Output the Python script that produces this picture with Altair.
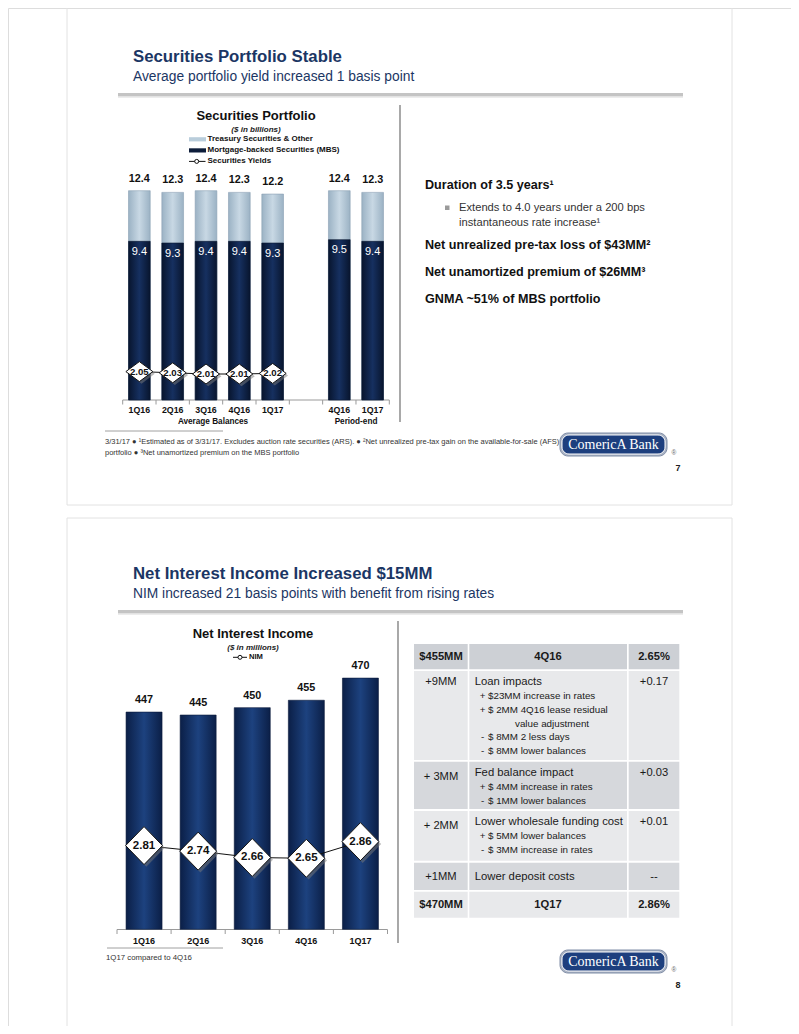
import altair as alt
import pandas as pd

# ---------------- chart data ----------------
sec_quarters = ["1Q16", "2Q16", "3Q16", "4Q16", "1Q17", "4Q16", "1Q17"]
sec_groups = ["Average Balances"] * 5 + ["Period-end"] * 2
sec_totals = [12.4, 12.3, 12.4, 12.3, 12.2, 12.4, 12.3]
sec_mbs = [9.4, 9.3, 9.4, 9.4, 9.3, 9.5, 9.4]
sec_yields = [2.05, 2.03, 2.01, 2.01, 2.02]

nii_quarters = ["1Q16", "2Q16", "3Q16", "4Q16", "1Q17"]
nii_values = [447, 445, 450, 455, 470]
nim_values = [2.81, 2.74, 2.66, 2.65, 2.86]

table_change = ["$455MM", "+9MM", "+ 3MM", "+ 2MM", "+1MM", "$470MM"]
table_item = ["4Q16", "Loan impacts", "Fed balance impact", "Lower wholesale funding cost",
              "Lower deposit costs", "1Q17"]
table_nim = ["2.65%", "+0.17", "+0.03", "+0.01", "--", "2.86%"]
table_details = [
    [],
    [("+", "$23MM increase in rates"), ("+", "$ 2MM 4Q16 lease residual"), ("", "value adjustment"),
     ("-", "$ 8MM 2 less days"), ("-", "$ 8MM lower balances")],
    [("+", "$ 4MM increase in rates"), ("-", "$ 1MM lower balances")],
    [("+", "$ 5MM lower balances"), ("-", "$ 3MM increase in rates")],
    [],
    [],
]

# ---------------- style / layout ----------------
NARROW = "Liberation Sans Narrow, Arial Narrow, Liberation Sans, Arial, sans-serif"
SERIF = "Liberation Serif, DejaVu Serif, serif"
NAVY = "#1b3664"
OX, OY = 8, 8
W, H = 783, 1018

texts, rules, rects, logo_rects, dots = [], [], [], [], []


def T(x, y, s, size, weight="normal", color="#111111", align="left", style="normal", font=NARROW):
    texts.append(dict(x=x - OX, y=y - OY, t=s, size=size, weight=weight, color=color,
                      align=align, style=style, font=font))


def R(x, y, x2, y2, color="#888888", w=1.0):
    rules.append(dict(x=x - OX, y=y - OY, x2=x2 - OX, y2=y2 - OY, color=color, w=w))


def B(x, y, x2, y2, fill, stroke="transparent", sw=0.0, target=None, radius=0):
    (rects if target is None else target).append(
        dict(x=x - OX, y=y - OY, x2=x2 - OX, y2=y2 - OY, fill=fill, stroke=stroke, sw=sw, radius=radius))


def header(dy, title, subtitle):
    T(133, 57 + dy, title, 16.8, "bold", NAVY)
    T(133, 77 + dy, subtitle, 13.8, "normal", NAVY)
    R(118, 94 + dy, 683, 94 + dy, "#8a8a8a", 1.2)
    R(118, 95.6 + dy, 683, 95.6 + dy, "#c4c4c4", 2)
    R(118, 97.2 + dy, 683, 97.2 + dy, "#e4e4e4", 1)


def logo(dy, page):
    B(560, 433 + dy, 667, 456 + dy, "#aab3c4", "#7f8da6", 1, logo_rects, 8)
    B(562, 435 + dy, 665, 454 + dy, "#1d3f7e", "#ffffff", 1, logo_rects, 7)
    T(613.5, 445 + dy, "ComericA Bank", 14, "normal", "#ffffff", "center", font=SERIF)
    T(674, 453 + dy, "\u00ae", 6.5, "normal", "#666666", "center")
    T(678, 468 + dy, page, 9, "bold", "#222222", "center")


# slide frames
B(67, 3, 732, 505, "transparent", "#e2e2e2", 1)
B(67, 518, 732, 1040, "transparent", "#e2e2e2", 1)

# ---- slide 1 ----
header(0, "Securities Portfolio Stable", "Average portfolio yield increased 1 basis point")
R(400, 105, 400, 422, "#7a7a7a", 1.3)
T(256, 116, "Securities Portfolio", 13, "bold", "#111111", "center")
T(256, 129.5, "($ in billions)", 8, "bold", "#222222", "center", "italic")
B(189, 137.2, 206, 141.4, "#b9cddb")
T(207.5, 139.3, "Treasury Securities & Other", 8, "bold")
B(189, 148.3, 206, 152.5, "#0d1d3a")
T(207.5, 150.4, "Mortgage-backed Securities (MBS)", 8, "bold")
R(189, 161.4, 205.5, 161.4, "#111111", 1)
dots.append(dict(x=196.7 - OX, y=161.4 - OY))
T(207.5, 161.4, "Securities Yields", 8, "bold")
T(213, 421.7, "Average Balances", 8.2, "bold", "#111111", "center")
T(356, 421.7, "Period-end", 8.2, "bold", "#111111", "center")
R(122.7, 400, 389.3, 400, "#9a9a9a", 1)

T(425, 185, "Duration of 3.5 years\u00b9", 12.6, "bold")
B(445, 205.5, 449.5, 210, "#9a9a9a")
T(459, 208, "Extends to 4.0 years under a 200 bps", 11.2, "normal", "#333333")
T(459, 222.7, "instantaneous rate increase\u00b9", 11.2, "normal", "#333333")
T(425, 244.5, "Net unrealized pre-tax loss of $43MM\u00b2", 12.6, "bold")
T(425, 272, "Net unamortized premium of $26MM\u00b3", 12.6, "bold")
T(425, 298.5, "GNMA ~51% of MBS portfolio", 12.6, "bold")

R(105, 431, 223, 431, "#888888", 0.8)
T(105, 441.5, "3/31/17 \u25cf \u00b9Estimated as of 3/31/17. Excludes auction rate securities (ARS). \u25cf "
              "\u00b2Net unrealized pre-tax gain on the available-for-sale (AFS)", 7.5, "normal", "#333333")
T(105, 452.5, "portfolio \u25cf \u00b3Net unamortized premium on the MBS portfolio", 7.5, "normal", "#333333")
logo(0, "7")

# ---- slide 2 ----
D2 = 517
header(D2, "Net Interest Income Increased $15MM",
       "NIM increased 21 basis points with benefit from rising rates")
R(398, 621, 398, 943, "#7a7a7a", 1.3)
T(253, 634, "Net Interest Income", 13, "bold", "#111111", "center")
T(253, 647.5, "($ in millions)", 8, "bold", "#222222", "center", "italic")
R(233, 657.3, 247, 657.3, "#111111", 1)
dots.append(dict(x=240 - OX, y=657.3 - OY))
T(249, 657.3, "NIM", 7.6, "bold")
R(117, 929.5, 387.5, 929.5, "#9a9a9a", 1)
R(107, 948, 223, 948, "#888888", 0.8)
T(106, 958, "1Q17 compared to 4Q16", 7.8, "normal", "#333333")
logo(D2, "8")

# table
col_x = [(414, 467.7), (469.3, 627), (628.7, 679.3)]
row_y = [(644, 669.3), (671, 760), (761.7, 809), (811, 860.7), (862.7, 890), (891.7, 917.7)]
row_fill = ["#cdd0d5", "#e8e9eb", "#d6d8dc", "#e8e9eb", "#d6d8dc", "#e8e9eb"]
first_line = [656.7, 681.7, 772.7, 821.7, 877.3, 905]
change_y = [656.7, 681.7, 776.7, 826, 877.3, 905]
for i in range(6):
    for (cx0, cx1) in col_x:
        B(cx0, row_y[i][0], cx1, row_y[i][1], row_fill[i])
    bold = i in (0, 5)
    wt = "bold" if bold else "normal"
    T(441, change_y[i], table_change[i], 11.2, wt, "#1a1a1a", "center")
    T(654, first_line[i], table_nim[i], 11.2, wt, "#1a1a1a", "center")
    if bold:
        T(548, first_line[i], table_item[i], 11.2, "bold", "#1a1a1a", "center")
    else:
        T(474.7, first_line[i], table_item[i], 11.3, "normal", "#1a1a1a")
    for j, (sign, line) in enumerate(table_details[i]):
        yy = first_line[i] + 14 + j * 13.9
        if sign:
            T(482.5, yy, sign, 9.8, "normal", "#1a1a1a", "center")
            T(488, yy, line, 9.8, "normal", "#1a1a1a")
        else:
            T(515, yy, line, 9.8, "normal", "#1a1a1a")

# ---------------- layout layers ----------------
layers = []


def rect_layer(rows, radius):
    return alt.Chart(pd.DataFrame(rows)).mark_rect(cornerRadius=radius).encode(
        x=alt.X("x:Q", scale=None, axis=None), x2="x2:Q",
        y=alt.Y("y:Q", scale=None, axis=None), y2="y2:Q",
        color=alt.Color("fill:N", scale=None, legend=None),
        stroke=alt.Stroke("stroke:N", scale=None, legend=None),
        strokeWidth=alt.StrokeWidth("sw:Q", scale=None, legend=None))


layers.append(rect_layer(rects, 0))

layers.append(alt.Chart(pd.DataFrame(rules)).mark_rule().encode(
    x=alt.X("x:Q", scale=None, axis=None), x2="x2:Q",
    y=alt.Y("y:Q", scale=None, axis=None), y2="y2:Q",
    color=alt.Color("color:N", scale=None, legend=None),
    strokeWidth=alt.StrokeWidth("w:Q", scale=None, legend=None)))

layers.append(alt.Chart(pd.DataFrame(dots)).mark_point(
    shape="circle", filled=True, fill="white", stroke="#111111", strokeWidth=1, size=16, opacity=1).encode(
    x=alt.X("x:Q", scale=None, axis=None), y=alt.Y("y:Q", scale=None, axis=None)))


def lin_grad(edge, mid):
    return alt.LinearGradient(gradient="linear", x1=0, x2=1, y1=0, y2=0, stops=[
        alt.GradientStop(color=edge, offset=0), alt.GradientStop(color=mid, offset=0.5),
        alt.GradientStop(color=edge, offset=1)])


# ---------------- slide 1 chart ----------------
sec_keys = [f"{g}|{q}" for g, q in zip(sec_groups, sec_quarters)]
dom1 = sec_keys[:5] + ["gap"] + sec_keys[5:]
xs1 = alt.Scale(type="band", domain=dom1, range=[122.7 - OX, 389.3 - OX], paddingInner=0, paddingOuter=0)
ys1 = alt.Scale(domain=[0, 12.4], range=[400 - OY, 190.7 - OY], nice=False, zero=False)
yy1 = alt.Scale(domain=[2.0, 2.1], range=[374.6 - OY, 368.6 - OY], nice=False, zero=False)
df1 = pd.DataFrame({"key": sec_keys, "quarter": sec_quarters, "total": sec_totals, "mbs": sec_mbs})
dfy1 = pd.DataFrame({"key": sec_keys[:5], "yld": sec_yields,
                     "lab": [f"{v:.2f}" for v in sec_yields]})
X1 = alt.X("key:N", scale=xs1, axis=None)

layers.append(alt.Chart(df1).mark_bar(width=21.7, color=lin_grad("#9bb2c4", "#c8d8e4"),
                                       stroke="#8aa0b3", strokeWidth=0.6).encode(
    x=X1, y=alt.Y("total:Q", scale=ys1, axis=None), y2=alt.datum(0)))
layers.append(alt.Chart(df1).mark_bar(width=21.7, color=lin_grad("#08152e", "#163060"),
                                       stroke="#0a1733", strokeWidth=0.6).encode(
    x=X1, y=alt.Y("mbs:Q", scale=ys1, axis=None), y2=alt.datum(0)))
layers.append(alt.Chart(df1).mark_text(dy=-12, fontWeight="bold", fontSize=10.8, font=NARROW,
                                        color="#111111").encode(
    x=X1, y=alt.Y("total:Q", scale=ys1, axis=None), text=alt.Text("total:Q", format=".1f")))
layers.append(alt.Chart(df1).mark_text(dy=10.5, fontSize=11, font=NARROW, color="white").encode(
    x=X1, y=alt.Y("mbs:Q", scale=ys1, axis=None), text=alt.Text("mbs:Q", format=".1f")))
layers.append(alt.Chart(df1).mark_text(fontWeight="bold", fontSize=8.8, font=NARROW, color="#111111").encode(
    x=X1, y=alt.value(410 - OY), text="quarter:N"))
layers.append(alt.Chart(pd.DataFrame({"key": dom1})).mark_rule(color="#9a9a9a", strokeWidth=1).encode(
    x=alt.X("key:N", scale=xs1, axis=None, bandPosition=0), y=alt.value(400 - OY), y2=alt.value(404.5 - OY)))
layers.append(alt.Chart(pd.DataFrame({"key": [dom1[-1]]})).mark_rule(color="#9a9a9a", strokeWidth=1).encode(
    x=alt.X("key:N", scale=xs1, axis=None, bandPosition=1), y=alt.value(400 - OY), y2=alt.value(404.5 - OY)))
YY1 = alt.Y("yld:Q", scale=yy1, axis=None)
layers.append(alt.Chart(dfy1).mark_line(color="#111111", strokeWidth=1).encode(x=X1, y=YY1))
layers.append(alt.Chart(dfy1).mark_point(shape="M-1.1,0.22L0.22,-0.78L1.54,0.22L0.22,1.22Z", size=400,
                                         filled=True, color="#7a7a7a", opacity=0.5).encode(x=X1, y=YY1))
layers.append(alt.Chart(dfy1).mark_point(shape="M-1.35,0L0,-1L1.35,0L0,1Z", size=400, filled=True,
                                         fill="white", stroke="#111111", strokeWidth=1, opacity=1).encode(
    x=X1, y=YY1))
layers.append(alt.Chart(dfy1).mark_text(fontWeight="bold", fontSize=9.6, font=NARROW, color="#111111").encode(
    x=X1, y=YY1, text="lab:N"))

# ---------------- slide 2 chart ----------------
xs2 = alt.Scale(type="band", domain=nii_quarters, range=[117 - OX, 387.5 - OX], paddingInner=0, paddingOuter=0)
ys2 = alt.Scale(domain=[300, 470], range=[929.3 - OY, 678.1 - OY], nice=False, zero=False)
yn2 = alt.Scale(domain=[2.0, 3.0], range=[909.9 - OY, 830.5 - OY], nice=False, zero=False)
df2 = pd.DataFrame({"q": nii_quarters, "nii": nii_values, "nim": nim_values,
                    "lab": [f"{v:.2f}" for v in nim_values]})
X2 = alt.X("q:N", scale=xs2, axis=None)
layers.append(alt.Chart(df2).mark_bar(width=36, color=lin_grad("#0b1f47", "#1d427f"),
                                       stroke="#0a1a3a", strokeWidth=0.6).encode(
    x=X2, y=alt.Y("nii:Q", scale=ys2, axis=None), y2=alt.datum(300)))
layers.append(alt.Chart(df2).mark_text(dy=-12, fontWeight="bold", fontSize=10.8, font=NARROW,
                                        color="#111111").encode(
    x=X2, y=alt.Y("nii:Q", scale=ys2, axis=None), text="nii:Q"))
layers.append(alt.Chart(df2).mark_text(fontWeight="bold", fontSize=9, font=NARROW, color="#111111").encode(
    x=X2, y=alt.value(941 - OY), text="q:N"))
layers.append(alt.Chart(df2).mark_rule(color="#9a9a9a", strokeWidth=1).encode(
    x=alt.X("q:N", scale=xs2, axis=None, bandPosition=0), y=alt.value(929.5 - OY), y2=alt.value(934 - OY)))
layers.append(alt.Chart(pd.DataFrame({"q": [nii_quarters[-1]]})).mark_rule(color="#9a9a9a", strokeWidth=1).encode(
    x=alt.X("q:N", scale=xs2, axis=None, bandPosition=1), y=alt.value(929.5 - OY), y2=alt.value(934 - OY)))
YN2 = alt.Y("nim:Q", scale=yn2, axis=None)
layers.append(alt.Chart(df2).mark_line(color="#111111", strokeWidth=1).encode(x=X2, y=YN2))
layers.append(alt.Chart(df2).mark_point(shape="M-0.85,0.12L0.12,-0.88L1.09,0.12L0.12,1.12Z", size=1444,
                                        filled=True, color="#7a7a7a", opacity=0.5).encode(x=X2, y=YN2))
layers.append(alt.Chart(df2).mark_point(shape="M-0.97,0L0,-1L0.97,0L0,1Z", size=1444, filled=True,
                                        fill="white", stroke="#111111", strokeWidth=1, opacity=1).encode(
    x=X2, y=YN2))
layers.append(alt.Chart(df2).mark_text(fontWeight="bold", fontSize=11.5, font=NARROW, color="#111111").encode(
    x=X2, y=YN2, text="lab:N"))

# ---------------- logo boxes then text layers ----------------
for r in logo_rects:
    layers.append(rect_layer([r], r["radius"]))

tdf = pd.DataFrame(texts)
for (w, a, st, f), g in tdf.groupby(["weight", "align", "style", "font"]):
    layers.append(alt.Chart(g[["x", "y", "t", "size", "color"]]).mark_text(
        fontWeight=w, align=a, fontStyle=st, font=f, baseline="middle").encode(
        x=alt.X("x:Q", scale=None, axis=None), y=alt.Y("y:Q", scale=None, axis=None),
        text="t:N", size=alt.Size("size:Q", scale=None, legend=None),
        color=alt.Color("color:N", scale=None, legend=None)))

chart = alt.layer(*layers).resolve_scale(
    x="independent", y="independent", color="independent", size="independent",
    stroke="independent", strokeWidth="independent"
).properties(
    width=W, height=H, autosize=alt.AutoSizeParams(type="none"), padding=0
).configure_view(strokeWidth=0).configure(background="white")

chart.save("out.html", embed_options={"renderer": "svg", "actions": False})
